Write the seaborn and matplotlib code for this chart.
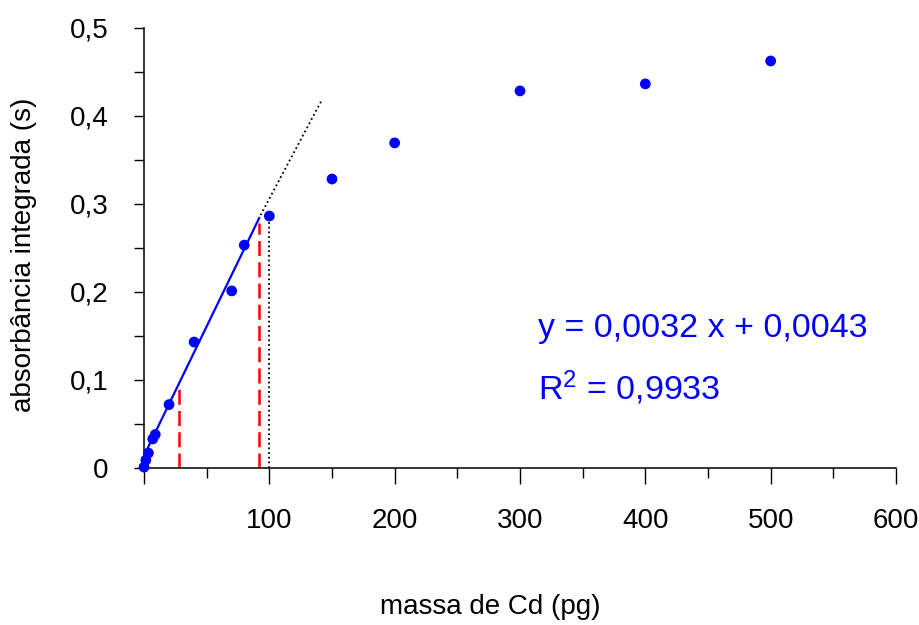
import numpy as np
import pandas as pd
import matplotlib
matplotlib.use("Agg")
import matplotlib.pyplot as plt
import seaborn as sns
from matplotlib.ticker import MultipleLocator, FixedLocator

# ---- data ----
massa = [0, 1.5, 3.5, 7, 9, 20, 40, 70, 80, 100, 150, 200, 300, 400, 500]
absorb = [0.001, 0.009, 0.017, 0.033, 0.038, 0.072, 0.143, 0.201, 0.253, 0.286,
          0.328, 0.369, 0.428, 0.436, 0.462]

fit_x = [0, 92]
fit_y = [0.014, 0.284]
ext_x = [93, 142]
ext_y = [0.287, 0.418]

red_x = [28, 91.5]
red_top = [0.093, 0.278]
black_x = 100
black_top = 0.28

x_ticks = [0, 100, 200, 300, 400, 500, 600]
x_ticklabels = ["", "100", "200", "300", "400", "500", "600"]
y_ticks = [0, 0.1, 0.2, 0.3, 0.4, 0.5]
y_ticklabels = ["0", "0,1", "0,2", "0,3", "0,4", "0,5"]

eq_text = "y = 0,0032 x + 0,0043"
r2_text = r"R$^{2}$ = 0,9933"

# ---- style ----
sns.set_style("ticks")
plt.rcParams["font.family"] = ["Liberation Sans", "DejaVu Sans"]
plt.rcParams["mathtext.fontset"] = "custom"
plt.rcParams["mathtext.rm"] = "Liberation Sans"
plt.rcParams["mathtext.it"] = "Liberation Sans"
plt.rcParams["mathtext.default"] = "regular"
plt.rcParams["text.color"] = "black"
plt.rcParams["axes.labelcolor"] = "black"
plt.rcParams["xtick.color"] = "black"
plt.rcParams["ytick.color"] = "black"

fig = plt.figure(figsize=(9.19, 6.25), dpi=100)
ax = fig.add_axes([144 / 919, 1 - 468 / 625, 752 / 919, 440.5 / 625])

df = pd.DataFrame({"massa": massa, "abs": absorb})
fit_df = pd.DataFrame({"x": fit_x, "y": fit_y})
ext_df = pd.DataFrame({"x": ext_x, "y": ext_y})

sns.lineplot(data=fit_df, x="x", y="y", ax=ax, color="#0000ff", lw=1.6, zorder=3)
sns.lineplot(data=ext_df, x="x", y="y", ax=ax, color="black", lw=1.3,
             linestyle=(0, (1, 1.6)), zorder=2)
for xv, top in zip(red_x, red_top):
    ax.plot([xv, xv], [0, top], color="#ff0000", lw=1.8, dashes=(6, 2.5), zorder=2)
ax.plot([black_x, black_x], [0, black_top], color="black", lw=1.3,
        linestyle=(0, (1, 1.6)), zorder=2)

sns.scatterplot(data=df, x="massa", y="abs", ax=ax, color="#0000ff", s=60,
                edgecolor="none", zorder=4, clip_on=False)

ax.set_xlim(0, 600)
ax.set_ylim(0, 0.5)

ax.xaxis.set_major_locator(FixedLocator(x_ticks))
ax.set_xticklabels(x_ticklabels)
ax.xaxis.set_minor_locator(MultipleLocator(50))
ax.yaxis.set_major_locator(FixedLocator(y_ticks))
ax.set_yticklabels(y_ticklabels)
ax.yaxis.set_minor_locator(MultipleLocator(0.05))

ax.tick_params(axis="x", which="major", direction="out", length=11.5, width=1,
               pad=17, labelsize=20, color="black", labelcolor="black")
ax.tick_params(axis="x", which="minor", direction="out", length=7, width=1, color="black")
ax.tick_params(axis="y", which="both", direction="out", length=7.5, width=1,
               pad=18, labelsize=20, color="black", labelcolor="black")

for s in ["top", "right"]:
    ax.spines[s].set_visible(False)
for s in ["left", "bottom"]:
    ax.spines[s].set_linewidth(1.1)
    ax.spines[s].set_color("black")

ax.set_xlabel("massa de Cd (pg)", fontsize=20, color="black")
ax.set_ylabel("absorbância integrada (s)", fontsize=20, color="black")
ax.xaxis.set_label_coords(0.461, -0.285)
ax.yaxis.set_label_coords(-0.142, 0.485)

ax.text(314, 0.149, eq_text, color="#0000ff", fontsize=24.5, va="baseline", ha="left")
ax.text(314, 0.078, r2_text, color="#0000ff", fontsize=24.5, va="baseline", ha="left")

fig.savefig("out.png", dpi=100)
